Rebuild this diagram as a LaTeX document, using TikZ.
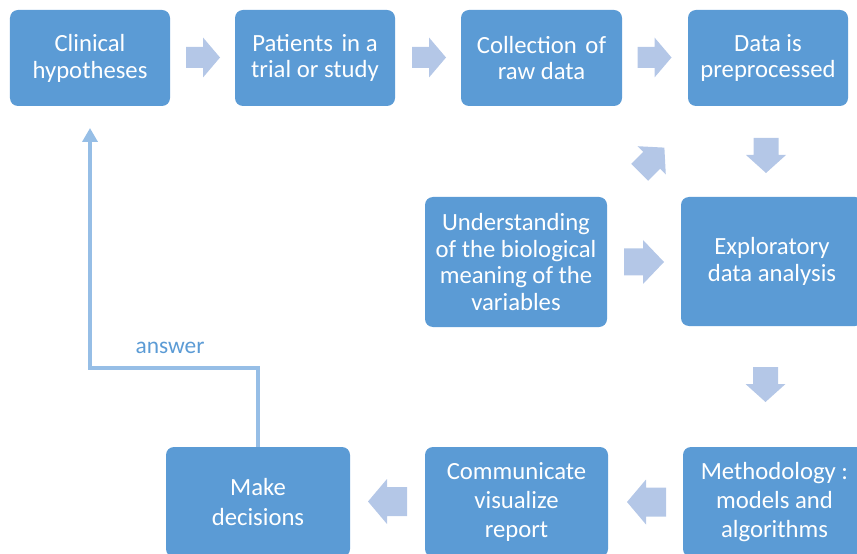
\documentclass[tikz,border=0pt]{standalone}
\usepackage{fontspec}
\setmainfont{Carlito}
\usetikzlibrary{arrows.meta,calc}
\definecolor{boxblue}{RGB}{91,155,213}
\definecolor{arrblue}{RGB}{180,199,231}
\definecolor{lineblue}{RGB}{150,190,230}
\definecolor{txtblue}{RGB}{91,155,213}
\tikzset{
  stepbox/.style={fill=boxblue, draw=none, rounded corners=8bp, text=white, align=center,
    font=\fontsize{24.8}{27}\selectfont, inner sep=0pt},
  lowbox/.style={stepbox, font=\fontsize{24.8}{29.5}\selectfont},
  arrfill/.style={fill=arrblue, draw=none},
  fb/.style={draw=lineblue, line width=4bp, -{Triangle[width=15bp,length=14bp]}},
  lbl/.style={text=txtblue, font=\fontsize{23.5}{25}\selectfont, inner sep=0pt},
}
% block arrow: centre x, centre y, angle, length, width, head length, shaft width
\newcommand{\blockarr}[7]{%
  \fill[arrfill, shift={(#1,#2)}, rotate=#3]
    (-#4/2,-#7/2) -- (#4/2-#6,-#7/2) -- (#4/2-#6,-#5/2) -- (#4/2,0)
    -- (#4/2-#6,#5/2) -- (#4/2-#6,#7/2) -- (-#4/2,#7/2) -- cycle;}
\begin{document}
\begin{tikzpicture}[x=1bp,y=-1bp]
\useasboundingbox (0,0) rectangle (857,554);
% top row
\node[stepbox, minimum width=160bp, minimum height=96bp] (ch) at (90,58) {Clinical\\hypotheses};
\node[stepbox, minimum width=160bp, minimum height=96bp] (pt) at (315,58) {Patients\hspace{3bp} in a\\trial or study};
\node[stepbox, minimum width=161bp, minimum height=96bp] (cr) at (541.5,58) {Collection\hspace{3bp} of\\raw data};
\node[stepbox, minimum width=160bp, minimum height=96bp] (dp) at (768,58) {Data is\\preprocessed};
% middle row
\node[stepbox, minimum width=182bp, minimum height=130bp] (ub) at (516,262) {Understanding\\of the biological\\meaning of the\\variables};
\node[stepbox, minimum width=182bp, minimum height=129bp] (ex) at (772,261.5) {Exploratory\\data analysis};
% bottom row
\node[lowbox, minimum width=183bp, minimum height=110bp] (me) at (774.5,502) {Methodology :\\models and\\algorithms};
\node[lowbox, minimum width=183bp, minimum height=110bp] (cv) at (516.5,502) {Communicate\\visualize\\report};
\node[lowbox, minimum width=184bp, minimum height=110bp] (md) at (258,502) {Make\\decisions};
% block arrows
\blockarr{203}{57.5}{0}{34}{40}{17}{21}
\blockarr{429}{57.5}{0}{34}{40}{17}{21}
\blockarr{654.5}{57.5}{0}{34}{40}{17}{21}
\blockarr{766}{155.5}{-90}{35}{40}{18}{25}
\blockarr{652}{160}{45}{35}{40}{18}{24}
\blockarr{644}{262}{0}{40}{44}{21}{27}
\blockarr{765.5}{384.5}{-90}{35}{40}{18}{25}
\blockarr{646.5}{502}{180}{39}{45}{19}{29}
\blockarr{387.5}{501.5}{180}{39}{45}{19}{29}
% feedback line
\coordinate (bend) at (90,368);
\coordinate (tip) at (90,128);
\draw[fb] (md.north) |- (bend) -- (tip);
\node[lbl, anchor=base] (ans) at (170,353) {answer};
\end{tikzpicture}
\end{document}
